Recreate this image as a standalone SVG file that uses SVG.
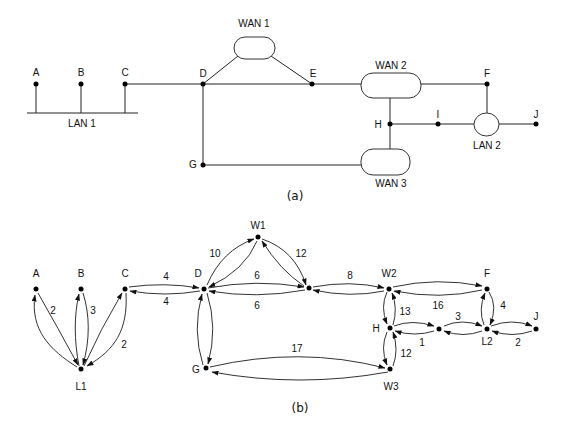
<svg xmlns="http://www.w3.org/2000/svg" width="580" height="434" viewBox="0 0 580 434">
<style>
text{font-family:"Liberation Sans",Arial,sans-serif;font-size:10px;fill:#111;text-anchor:middle}
.cap{font-family:"DejaVu Sans",Verdana,sans-serif;font-size:12px}
.ln{stroke:#222;stroke-width:1;fill:none}
.box{stroke:#333;stroke-width:1;fill:#fff}
.dot{fill:#000}
.arc{stroke:#333;stroke-width:1;fill:none;marker-end:url(#ah)}
</style>
<defs>
<marker id="ah" markerUnits="userSpaceOnUse" markerWidth="7" markerHeight="5" refX="6.5" refY="2.5" orient="auto">
<path d="M0,0 L7,2.5 L0,5 z" fill="#111"/>
</marker>
</defs>
<rect width="580" height="434" fill="#fff"/>

<!-- (a) connectors -->
<g id="connectors-a">
<line class="ln" x1="27" y1="113" x2="138" y2="113"/>
<line class="ln" x1="36" y1="84" x2="36" y2="113"/>
<line class="ln" x1="81" y1="84" x2="81" y2="113"/>
<line class="ln" x1="125" y1="84" x2="125" y2="113"/>
<line class="ln" x1="125" y1="84" x2="361" y2="84"/>
<line class="ln" x1="203" y1="84" x2="238" y2="56"/>
<line class="ln" x1="271" y1="56" x2="312" y2="84"/>
<line class="ln" x1="421" y1="84" x2="487" y2="84"/>
<line class="ln" x1="487" y1="84" x2="487" y2="113"/>
<line class="ln" x1="390" y1="98" x2="390" y2="149"/>
<line class="ln" x1="390" y1="124" x2="474" y2="124"/>
<line class="ln" x1="499" y1="124" x2="536" y2="124"/>
<line class="ln" x1="203" y1="84" x2="203" y2="165"/>
<line class="ln" x1="203" y1="165" x2="361" y2="165"/>
</g>
<g id="a-LAN1"><text x="82" y="127">LAN 1</text></g>
<g id="a-A"><circle class="dot" cx="36" cy="84" r="2.5"/><text x="36" y="76">A</text></g>
<g id="a-B"><circle class="dot" cx="81" cy="84" r="2.5"/><text x="81" y="76">B</text></g>
<g id="a-C"><circle class="dot" cx="125" cy="84" r="2.5"/><text x="125" y="76">C</text></g>
<g id="a-D"><circle class="dot" cx="203" cy="84" r="2.5"/><text x="203" y="77">D</text></g>
<g id="a-E"><circle class="dot" cx="312" cy="84" r="2.5"/><text x="313" y="77">E</text></g>
<g id="a-F"><circle class="dot" cx="487" cy="84" r="2.5"/><text x="487" y="77">F</text></g>
<g id="a-G"><circle class="dot" cx="203" cy="165" r="2.5"/><text x="193" y="168">G</text></g>
<g id="a-H"><circle class="dot" cx="390" cy="124" r="2.5"/><text x="378" y="128">H</text></g>
<g id="a-I"><circle class="dot" cx="438" cy="124" r="2.5"/><text x="438" y="118">I</text></g>
<g id="a-J"><circle class="dot" cx="536" cy="124" r="2.5"/><text x="536" y="118">J</text></g>
<g id="a-WAN1"><rect class="box" x="234" y="37" width="41" height="22" rx="11"/><text x="254" y="27">WAN 1</text></g>
<g id="a-WAN2"><rect class="box" x="361" y="73" width="60" height="25" rx="12"/><text x="391" y="69">WAN 2</text></g>
<g id="a-WAN3"><rect class="box" x="361" y="149" width="49" height="26" rx="12"/><text x="391" y="187">WAN 3</text></g>
<g id="a-LAN2"><ellipse class="box" cx="486.5" cy="124.5" rx="12.5" ry="11.5"/><text x="487" y="149">LAN 2</text></g>
<text class="cap" x="295" y="200">(a)</text>

<!-- (b) connectors -->
<g id="connectors-b">
<path class="arc" d="M38 293 Q58 328 78 365"/>
<path class="arc" d="M77 367 C50 350 30 330 35 295"/>
<path class="arc" d="M79 366 C74 340 74 315 79 294"/>
<path class="arc" d="M83 293 C90 315 90 340 83 365"/>
<path class="arc" d="M84 366 Q100 330 122 293"/>
<path class="arc" d="M126 293 C128 330 115 350 87 366"/>
<path class="arc" d="M129 287 Q165 282 199 288"/>
<path class="arc" d="M200 291 Q165 297 130 291"/>
<path class="arc" d="M207 285 Q222 250 254 239"/>
<path class="arc" d="M257 241 Q245 270 209 287"/>
<path class="arc" d="M262 239 Q295 250 306 285"/>
<path class="arc" d="M304 286 Q280 270 262 241"/>
<path class="arc" d="M208 288 Q256 279 304 287"/>
<path class="arc" d="M305 290 Q256 299 209 291"/>
<path class="arc" d="M313 287 Q350 280 384 288"/>
<path class="arc" d="M384 291 Q350 298 313 290"/>
<path class="arc" d="M393 287 Q437 277 482 286"/>
<path class="arc" d="M482 290 Q440 300 394 291"/>
<path class="arc" d="M387 292 Q380 307 387 324"/>
<path class="arc" d="M393 325 Q398 308 392 293"/>
<path class="arc" d="M394 326 Q412 319 434 326"/>
<path class="arc" d="M434 331 Q415 337 395 331"/>
<path class="arc" d="M444 326 Q462 318 482 326"/>
<path class="arc" d="M482 331 Q463 338 444 331"/>
<path class="arc" d="M484 325 Q478 310 485 293"/>
<path class="arc" d="M489 292 Q498 306 490 325"/>
<path class="arc" d="M491 326 Q512 318 532 326"/>
<path class="arc" d="M532 331 Q512 338 492 331"/>
<path class="arc" d="M387 332 Q380 348 387 365"/>
<path class="arc" d="M393 366 Q399 350 393 332"/>
<path class="arc" d="M210 367 Q300 346 385 368"/>
<path class="arc" d="M388 372 Q300 388 212 372"/>
<path class="arc" d="M203 365 Q192 330 202 294"/>
<path class="arc" d="M207 293 Q218 328 208 364"/>
<text x="53" y="314">2</text>
<text x="93" y="314">3</text>
<text x="124" y="348">2</text>
<text x="166" y="280">4</text>
<text x="166" y="305">4</text>
<text x="215" y="257">10</text>
<text x="257" y="279">6</text>
<text x="257" y="309">6</text>
<text x="301" y="257">12</text>
<text x="350" y="279">8</text>
<text x="438" y="309">16</text>
<text x="405" y="315">13</text>
<text x="458" y="320">3</text>
<text x="422" y="346">1</text>
<text x="503" y="309">4</text>
<text x="518" y="346">2</text>
<text x="406" y="357">12</text>
<text x="297" y="352">17</text>
</g>
<g id="b-A"><circle class="dot" cx="36" cy="289" r="2.5"/><text x="36" y="277">A</text></g>
<g id="b-B"><circle class="dot" cx="81" cy="289" r="2.5"/><text x="81" y="277">B</text></g>
<g id="b-C"><circle class="dot" cx="125" cy="289" r="2.5"/><text x="125" y="277">C</text></g>
<g id="b-L1"><circle class="dot" cx="81" cy="369" r="2.5"/><text x="81" y="390">L1</text></g>
<g id="b-D"><circle class="dot" cx="204" cy="289" r="2.5"/><text x="198" y="277">D</text></g>
<g id="b-W1"><circle class="dot" cx="258" cy="237" r="2.5"/><text x="258" y="229">W1</text></g>
<g id="b-E"><circle class="dot" cx="309" cy="288" r="2.5"/></g>
<g id="b-W2"><circle class="dot" cx="389" cy="289" r="2.5"/><text x="389" y="277">W2</text></g>
<g id="b-F"><circle class="dot" cx="487" cy="289" r="2.5"/><text x="487" y="277">F</text></g>
<g id="b-H"><circle class="dot" cx="390" cy="328" r="2.5"/><text x="376" y="332">H</text></g>
<g id="b-I"><circle class="dot" cx="439" cy="329" r="2.5"/></g>
<g id="b-L2"><circle class="dot" cx="487" cy="329" r="2.5"/><text x="487" y="345">L2</text></g>
<g id="b-J"><circle class="dot" cx="536" cy="329" r="2.5"/><text x="536" y="320">J</text></g>
<g id="b-G"><circle class="dot" cx="206" cy="368" r="2.5"/><text x="196" y="373">G</text></g>
<g id="b-W3"><circle class="dot" cx="390" cy="369" r="2.5"/><text x="391" y="390">W3</text></g>
<text class="cap" x="300" y="412">(b)</text>
</svg>
